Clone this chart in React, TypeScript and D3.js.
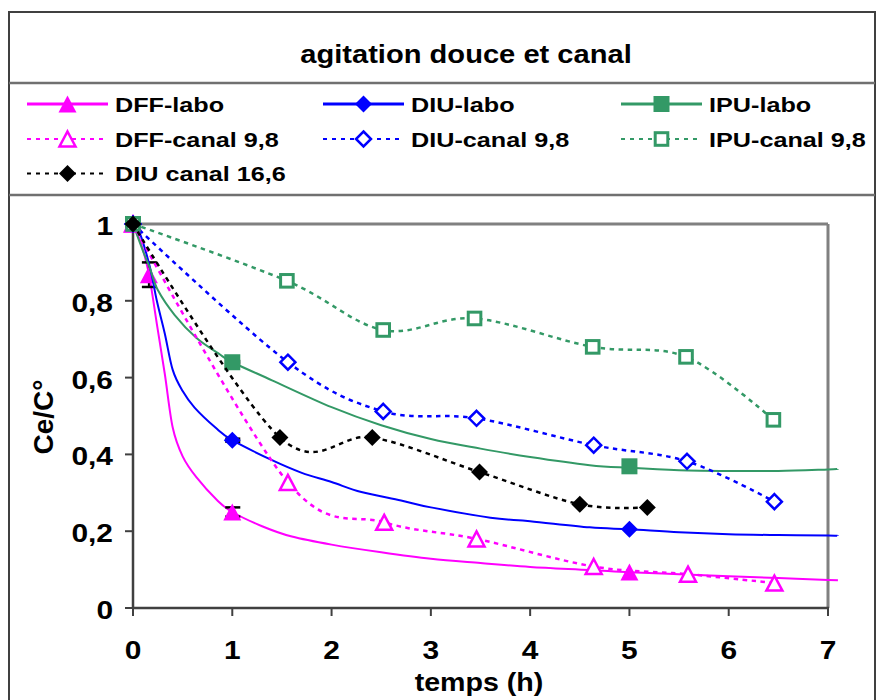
import React from 'react';
import * as d3 from 'd3';

type Pt = [number, number];

const title = 'agitation douce et canal';
const xLabel = 'temps (h)';
const yLabel = 'Ce/C°';
const xTicks = [0, 1, 2, 3, 4, 5, 6, 7];
const yTicks = [0, 0.2, 0.4, 0.6, 0.8, 1];

// Fitted "labo" curves (solid lines)
const dffLaboCurve: Pt[] = [[0, 1], [0.08, 0.95], [0.16, 0.87], [0.24, 0.74], [0.32, 0.61], [0.4, 0.47], [0.5, 0.395], [0.64, 0.34], [0.85, 0.28], [1, 0.25], [1.3, 0.213], [1.6, 0.186], [2, 0.165], [2.5, 0.145], [3, 0.128], [3.5, 0.117], [4, 0.107], [4.6, 0.099], [5, 0.093], [5.5, 0.088], [6, 0.083], [6.5, 0.078], [7, 0.073], [7.1, 0.072]];
const diuLaboCurve: Pt[] = [[0, 1], [0.07, 0.975], [0.17, 0.888], [0.24, 0.8], [0.32, 0.715], [0.4, 0.62], [0.5, 0.565], [0.62, 0.522], [0.83, 0.47], [1, 0.437], [1.4, 0.385], [1.7, 0.352], [2, 0.328], [2.3, 0.302], [2.7, 0.28], [3, 0.262], [3.6, 0.235], [4, 0.226], [4.6, 0.21], [5, 0.205], [5.5, 0.197], [6, 0.192], [6.5, 0.19], [7, 0.189], [7.1, 0.188]];
const ipuLaboCurve: Pt[] = [[0, 1], [0.1, 0.93], [0.17, 0.885], [0.25, 0.828], [0.42, 0.763], [0.64, 0.703], [0.86, 0.663], [1, 0.64], [1.4, 0.593], [2, 0.523], [2.5, 0.476], [3, 0.44], [3.5, 0.415], [4, 0.393], [4.6, 0.372], [5, 0.365], [5.5, 0.359], [6, 0.357], [6.5, 0.357], [7, 0.361], [7.1, 0.362]];

// Measured points (markers)
const dffLaboPts: Pt[] = [[0, 1], [0.16, 0.868], [1, 0.25], [5, 0.094]];
const diuLaboPts: Pt[] = [[0, 1], [1, 0.437], [5, 0.205]];
const ipuLaboPts: Pt[] = [[0, 1], [1, 0.64], [5, 0.369]];
const dffCanalPts: Pt[] = [[0, 1], [1.56, 0.327], [2.53, 0.223], [3.46, 0.18], [4.64, 0.108], [5.59, 0.088], [6.46, 0.065]];
const diuCanalPts: Pt[] = [[0, 1], [1.56, 0.64], [2.52, 0.512], [3.46, 0.494], [4.64, 0.424], [5.58, 0.382], [6.46, 0.277]];
const ipuCanalPts: Pt[] = [[0, 1], [1.55, 0.852], [2.52, 0.724], [3.44, 0.754], [4.63, 0.68], [5.57, 0.654], [6.45, 0.49]];
const diu166Pts: Pt[] = [[0, 1], [1.48, 0.444], [2.41, 0.444], [3.49, 0.354], [4.5, 0.27], [5.18, 0.262]];

// Error bars [x, y, err]
const errorBars: [number, number, number][] = [[0.16, 0.868, 0.032], [1, 0.25, 0.012], [1, 0.437, 0.004], [1, 0.64, 0.003]];

const MAGENTA = '#FF00FF';
const BLUE = '#0000FF';
const GREEN = '#339966';
const BLACK = '#000000';

type Shape = 'triangle' | 'diamond' | 'square';
interface Series {
  name: string;
  color: string;
  shape: Shape;
  filled: boolean;
  dashed: boolean;
  line: Pt[];
  pts: Pt[];
}

const series: Series[] = [
  { name: 'DFF-labo', color: MAGENTA, shape: 'triangle', filled: true, dashed: false, line: dffLaboCurve, pts: dffLaboPts },
  { name: 'DIU-labo', color: BLUE, shape: 'diamond', filled: true, dashed: false, line: diuLaboCurve, pts: diuLaboPts },
  { name: 'IPU-labo', color: GREEN, shape: 'square', filled: true, dashed: false, line: ipuLaboCurve, pts: ipuLaboPts },
  { name: 'DFF-canal 9,8', color: MAGENTA, shape: 'triangle', filled: false, dashed: true, line: dffCanalPts, pts: dffCanalPts },
  { name: 'DIU-canal 9,8', color: BLUE, shape: 'diamond', filled: false, dashed: true, line: diuCanalPts, pts: diuCanalPts },
  { name: 'IPU-canal 9,8', color: GREEN, shape: 'square', filled: false, dashed: true, line: ipuCanalPts, pts: ipuCanalPts },
  { name: 'DIU canal 16,6', color: BLACK, shape: 'diamond', filled: true, dashed: true, line: diu166Pts, pts: diu166Pts },
];

const FONT = '"Liberation Sans", Arial, sans-serif';

function Marker({ shape, filled, color, cx, cy }: { shape: Shape; filled: boolean; color: string; cx: number; cy: number }) {
  const fill = filled ? color : '#ffffff';
  const sw = filled ? 0 : 2.5;
  if (shape === 'triangle') {
    const h = filled ? 8.5 : 7.5;
    const w = filled ? 9 : 8;
    return <polygon points={`${cx},${cy - h} ${cx + w},${cy + h} ${cx - w},${cy + h}`} fill={fill} stroke={color} strokeWidth={sw} strokeLinejoin="miter" />;
  }
  if (shape === 'diamond') {
    const r = filled ? 8.5 : 7.5;
    return <polygon points={`${cx},${cy - r} ${cx + r},${cy} ${cx},${cy + r} ${cx - r},${cy}`} fill={fill} stroke={color} strokeWidth={sw} />;
  }
  const s = filled ? 8 : 6.3;
  return <rect x={cx - s} y={cy - s} width={2 * s} height={2 * s} fill={fill} stroke={color} strokeWidth={filled ? 0 : 3} />;
}

function SText({ x, y, sx, size, anchor, children, rotate }: { x: number; y: number; sx: number; size: number; anchor: string; children: React.ReactNode; rotate?: number }) {
  const tr = `translate(${x},${y})${rotate ? ` rotate(${rotate})` : ''} scale(${sx},1)`;
  return (
    <text transform={tr} fontFamily={FONT} fontWeight="bold" fontSize={size} textAnchor={anchor as any} fill="#000">
      {children}
    </text>
  );
}

export default function App() {
  const W = 877;
  const H = 700;
  const x = d3.scaleLinear().domain([0, 7]).range([133, 828]);
  const y = d3.scaleLinear().domain([0, 1]).range([608, 224]);
  const lineGen = d3
    .line<Pt>()
    .x((d) => x(d[0]))
    .y((d) => y(d[1]))
    .curve(d3.curveCardinal.tension(0));

  const legendCols = [27, 323, 621];
  const legendRows = [104, 139, 173.5];
  const lineLen = 81;

  return (
    <svg width={W} height={H} style={{ position: 'absolute', left: 0, top: 0, background: '#fff' }}>
      <rect x={0} y={0} width={W} height={H} fill="#fff" />
      {/* outer box */}
      <rect x={9} y={12} width={866} height={720} fill="none" stroke="#404040" strokeWidth={2} />
      <line x1={9} x2={875} y1={83} y2={83} stroke="#707070" strokeWidth={2.5} />
      <line x1={9} x2={875} y1={195} y2={195} stroke="#707070" strokeWidth={2.5} />

      {/* title */}
      <SText x={466} y={63} sx={1.12} size={26} anchor="middle">{title}</SText>

      {/* legend */}
      {series.map((s, i) => {
        const col = i % 3;
        const row = Math.floor(i / 3);
        const lx = legendCols[col];
        const ly = legendRows[row];
        return (
          <g key={s.name}>
            <line x1={lx} x2={lx + lineLen} y1={ly} y2={ly} stroke={s.color} strokeWidth={s.dashed ? 2 : 3} strokeDasharray={s.dashed ? '4 5' : undefined} />
            <Marker shape={s.shape} filled={s.filled} color={s.color} cx={lx + lineLen / 2} cy={ly} />
            <SText x={lx + 88} y={ly + 7.5} sx={1.2} size={21} anchor="start">{s.name}</SText>
          </g>
        );
      })}

      {/* plot frame */}
      <line x1={x(0)} x2={x(7)} y1={y(1)} y2={y(1)} stroke="#808080" strokeWidth={3} />
      <line x1={x(7)} x2={x(7)} y1={y(1)} y2={y(0)} stroke="#808080" strokeWidth={3} />
      <line x1={x(0)} x2={x(0)} y1={y(1)} y2={y(0) + 1} stroke="#404040" strokeWidth={2.5} />
      <line x1={x(0) - 1} x2={x(7) + 1} y1={y(0)} y2={y(0)} stroke="#404040" strokeWidth={2.5} />

      {/* ticks */}
      {xTicks.map((t) => (
        <g key={`xt${t}`}>
          <line x1={x(t)} x2={x(t)} y1={y(0)} y2={y(0) + 8} stroke="#404040" strokeWidth={2} />
          <SText x={x(t)} y={659} sx={1.15} size={26} anchor="middle">{String(t)}</SText>
        </g>
      ))}
      {yTicks.map((t) => (
        <g key={`yt${t}`}>
          <line x1={x(0) - 8} x2={x(0)} y1={y(t)} y2={y(t)} stroke="#404040" strokeWidth={2} />
          <SText x={113} y={y(t) + 11} sx={1.15} size={26} anchor="end">{String(Math.round(t * 10) / 10).replace('.', ',')}</SText>
        </g>
      ))}

      {/* axis titles */}
      <SText x={479} y={691} sx={1.1} size={26} anchor="middle">{xLabel}</SText>
      <SText x={53} y={417} sx={1} size={28} anchor="middle" rotate={-90}>{yLabel}</SText>

      {/* series */}
      {series.map((s) => (
        <g key={`s-${s.name}`}>
          <path d={lineGen(s.line) || ''} fill="none" stroke={s.color} strokeWidth={s.dashed ? 2.5 : 2} strokeDasharray={s.dashed ? '4.5 4.5' : undefined} />
          {s.name === 'DFF-labo' || s.name === 'DIU-labo' || s.name === 'IPU-labo'
            ? errorBars
                .filter((e) => s.pts.some((p) => p[0] === e[0] && Math.abs(p[1] - e[1]) < 1e-6))
                .map((e, k) => (
                  <g key={`e${k}`}>
                    <line x1={x(e[0])} x2={x(e[0])} y1={y(e[1] + e[2])} y2={y(e[1] - e[2])} stroke="#000" strokeWidth={2} />
                    <line x1={x(e[0]) - 7} x2={x(e[0]) + 8} y1={y(e[1] + e[2])} y2={y(e[1] + e[2])} stroke="#000" strokeWidth={2.5} />
                    <line x1={x(e[0]) - 7} x2={x(e[0]) + 8} y1={y(e[1] - e[2])} y2={y(e[1] - e[2])} stroke="#000" strokeWidth={2.5} />
                  </g>
                ))
            : null}
          {s.pts.map((p, k) => (
            <Marker key={k} shape={s.shape} filled={s.filled} color={s.color} cx={x(p[0])} cy={y(p[1])} />
          ))}
        </g>
      ))}
    </svg>
  );
}
